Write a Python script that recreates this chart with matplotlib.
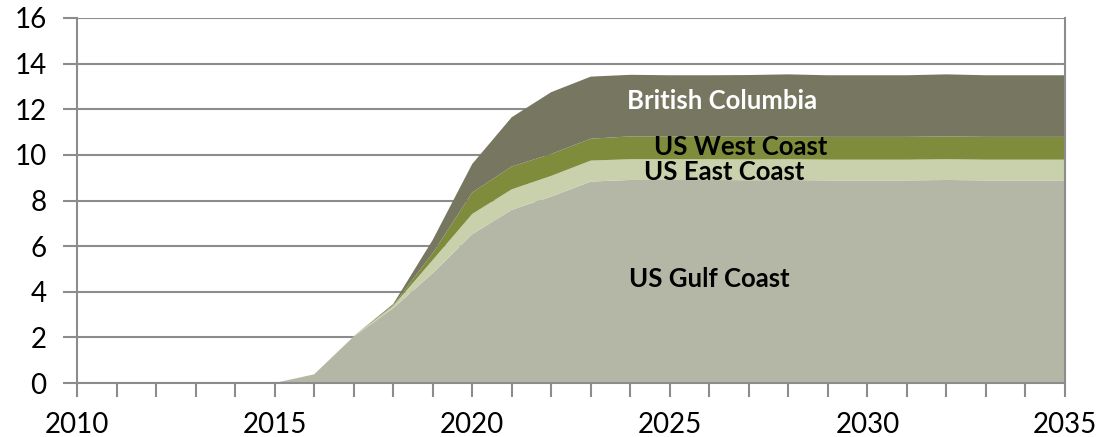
import matplotlib
matplotlib.use("Agg")
import matplotlib.pyplot as plt
import numpy as np

years = list(range(2010, 2036))
gulf = [0, 0, 0, 0, 0, 0, 0.38, 2.03, 3.28, 4.81, 6.52, 7.59, 8.17, 8.83, 8.9,
        8.9, 8.9, 8.89, 8.9, 8.88, 8.88, 8.88, 8.9, 8.88, 8.88, 8.88]
east = [0, 0, 0, 0, 0, 0, 0, 0.02, 0.1, 0.58, 0.89, 0.9, 0.91, 0.92, 0.91,
        0.91, 0.91, 0.91, 0.91, 0.91, 0.91, 0.91, 0.91, 0.91, 0.91, 0.91]
west = [0, 0, 0, 0, 0, 0, 0, 0, 0.04, 0.3, 0.94, 1.0, 0.96, 0.96, 1.0,
        1.0, 1.0, 1.0, 1.0, 1.0, 1.0, 1.0, 1.0, 1.0, 1.0, 1.0]
bc = [0, 0, 0, 0, 0, 0, 0, 0, 0.04, 0.58, 1.25, 2.16, 2.71, 2.72, 2.7,
      2.68, 2.68, 2.7, 2.72, 2.7, 2.7, 2.7, 2.72, 2.7, 2.7, 2.7]

colors = ['#B5B7A6', '#C9D0AC', '#7F8C3C', '#767661']
label_text = ['US Gulf Coast', 'US East Coast', 'US West Coast', 'British Columbia']
label_pos = [(2026.0, 4.56), (2026.38, 9.25), (2026.8, 10.35), (2026.33, 12.37)]
label_color = ['black', 'black', 'black', 'white']

plt.rcParams['font.family'] = ['Lato', 'DejaVu Sans']

fig = plt.figure(figsize=(11.09, 4.37), dpi=100)
ax = fig.add_axes([77 / 1109, 1 - 383 / 437, (1065 - 77) / 1109, (383 - 18) / 437])

ax.stackplot(years, gulf, east, west, bc, colors=colors, linewidth=0, zorder=2)

for txt, (x, y), c in zip(label_text, label_pos, label_color):
    ax.text(x, y, txt, ha='center', va='center', fontsize=18.5, fontweight='bold',
            color=c, zorder=3)

ax.set_xlim(2010, 2035)
ax.set_ylim(0, 16)
ax.set_xticks(range(2010, 2036, 5))
ax.set_xticks(range(2010, 2036), minor=True)
ax.set_yticks(range(0, 17, 2))
ax.yaxis.grid(True, color='#8C8C8C', linewidth=1.5, zorder=1)
ax.set_axisbelow(True)

for side in ['left', 'bottom', 'right']:
    ax.spines[side].set_color('#8C8C8C')
    ax.spines[side].set_linewidth(1.5)
ax.spines['top'].set_visible(False)
ax.spines['right'].set_zorder(4)
ax.spines['bottom'].set_zorder(4)

ax.tick_params(axis='both', which='both', direction='out', color='#8C8C8C',
               width=1.5, labelsize=20)
ax.tick_params(axis='x', which='both', length=10, pad=11)
ax.tick_params(axis='y', length=10, pad=12)

fig.savefig('out.png', dpi=100)
